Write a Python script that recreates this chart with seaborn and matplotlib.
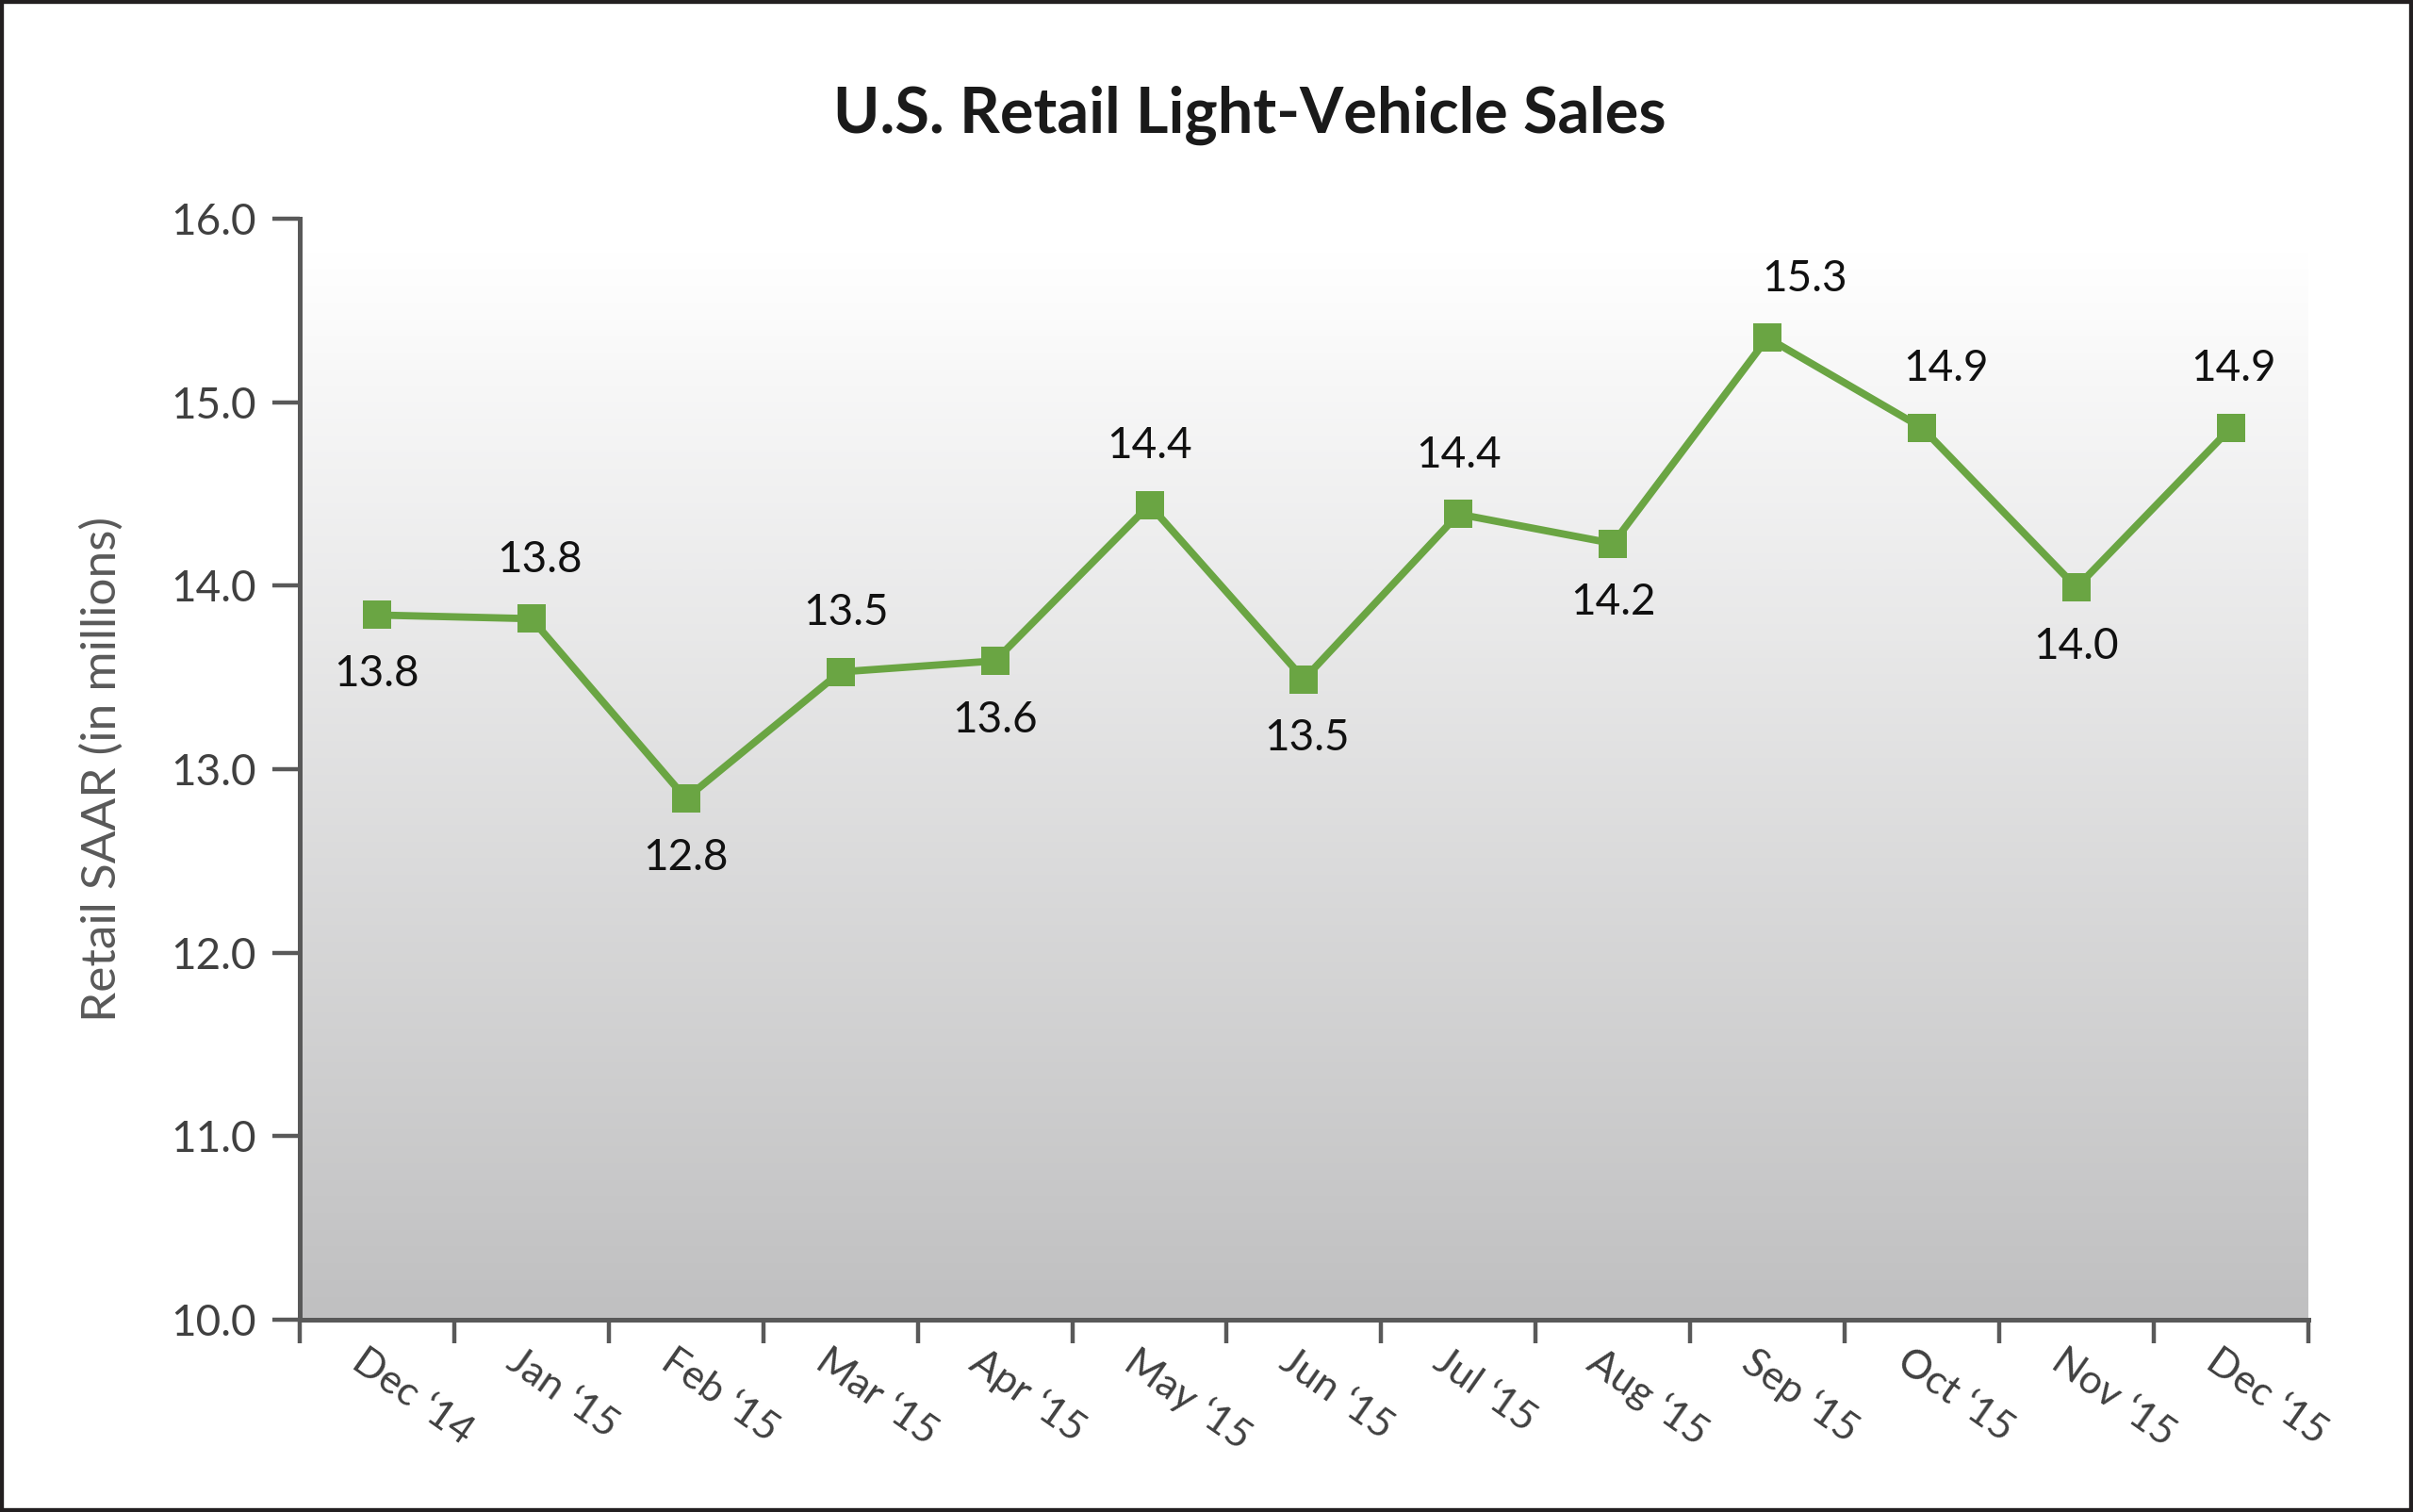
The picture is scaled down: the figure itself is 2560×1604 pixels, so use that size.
import numpy as np
import pandas as pd
import matplotlib
matplotlib.use("Agg")
import matplotlib.pyplot as plt
import seaborn as sns
from matplotlib.colors import LinearSegmentedColormap
from matplotlib.patches import Rectangle
import matplotlib.transforms as mtransforms

# ---- data ----
months = ["Dec \u201814", "Jan \u201815", "Feb \u201815", "Mar \u201815", "Apr \u201815", "May \u201815",
          "Jun \u201815", "Jul \u201815", "Aug \u201815", "Sep \u201815", "Oct \u201815", "Nov \u201815", "Dec \u201815"]
saar = [13.84, 13.82, 12.84, 13.53, 13.59, 14.44, 13.49, 14.39, 14.23, 15.35, 14.86, 13.99, 14.86]
labels = ["13.8", "13.8", "12.8", "13.5", "13.6", "14.4", "13.5", "14.4", "14.2", "15.3", "14.9", "14.0", "14.9"]
y_ticks = [10.0, 11.0, 12.0, 13.0, 14.0, 15.0, 16.0]

# label placement: +1 above, -1 below ; horizontal nudge in points
label_side = [-1, 1, -1, 1, -1, 1, -1, 1, -1, 1, 1, -1, 1]
label_dx = [0, 3, 0, 2, 0, 0, 1, 0, 0, 14, 9, 0, 1]

df = pd.DataFrame({"pos": np.arange(len(months)), "saar": saar})

sns.set_theme(style="white")
plt.rcParams["font.family"] = ["Lato", "DejaVu Sans"]

fig = plt.figure(figsize=(12.8, 8.02), dpi=200)
ax = fig.add_axes([0.1242, 0.1272, 0.9566 - 0.1242, 0.8554 - 0.1272])

# gradient background (white at top -> grey at bottom)
cmap = LinearSegmentedColormap.from_list("g", ["#ffffff", "#c0c0c1"])
grad = np.linspace(1, 0, 256).reshape(-1, 1)
ax.imshow(grad, extent=[-0.5, 12.5, 10.0, 15.85], aspect="auto", cmap=cmap,
          origin="lower", zorder=0, interpolation="bilinear", vmin=0, vmax=1)

green = "#6aa543"
sns.lineplot(data=df, x="pos", y="saar", ax=ax, color=green, linewidth=2.8,
             marker="s", markersize=11, markeredgewidth=0, zorder=3)

for i, (v, lab) in enumerate(zip(saar, labels)):
    ax.annotate(lab, (i, v), xytext=(label_dx[i], 22.5 * label_side[i]),
                textcoords="offset points", ha="center", va="center",
                fontsize=16.5, color="#111111", zorder=4)

ax.set_xlim(-0.5, 12.5)
ax.set_ylim(10, 16)

axis_col = "#595959"
for s in ["top", "right"]:
    ax.spines[s].set_visible(False)
for s in ["left", "bottom"]:
    ax.spines[s].set_color(axis_col)
    ax.spines[s].set_linewidth(1.8)

ax.set_yticks(y_ticks)
ax.set_yticklabels([f"{t:.1f}" for t in y_ticks])
ax.tick_params(axis="y", which="major", left=True, length=10.5, width=1.6,
               color=axis_col, labelsize=16.5, labelcolor="#404040", pad=6)

ax.set_xticks(np.arange(-0.5, 13, 1.0))
ax.set_xticklabels([])
ax.tick_params(axis="x", which="major", bottom=True, length=9, width=1.6, color=axis_col)
ax.set_xticks(np.arange(len(months)), minor=True)
ax.set_xticklabels(months, minor=True, rotation=-35, ha="left", va="top",
                   rotation_mode="anchor", fontsize=15.5, color="#404040")
ax.tick_params(axis="x", which="minor", length=0, pad=9)
offset = mtransforms.ScaledTranslation(-4 / 72, 0, fig.dpi_scale_trans)
for t in ax.get_xticklabels(minor=True):
    t.set_transform(t.get_transform() + offset)

ax.set_xlabel("")
ax.set_ylabel("Retail SAAR (in millions)", fontsize=18.5, color="#595959", labelpad=18)
ax.grid(False)

fig.text(0.518, 0.924, "U.S. Retail Light-Vehicle Sales", ha="center", va="center",
         fontsize=24, fontweight="bold", color="#1a1a1a")

fig.add_artist(Rectangle((0, 0), 1, 1, transform=fig.transFigure, fill=False,
                         edgecolor="#231f20", linewidth=3))

fig.savefig("out.png", dpi=200)
